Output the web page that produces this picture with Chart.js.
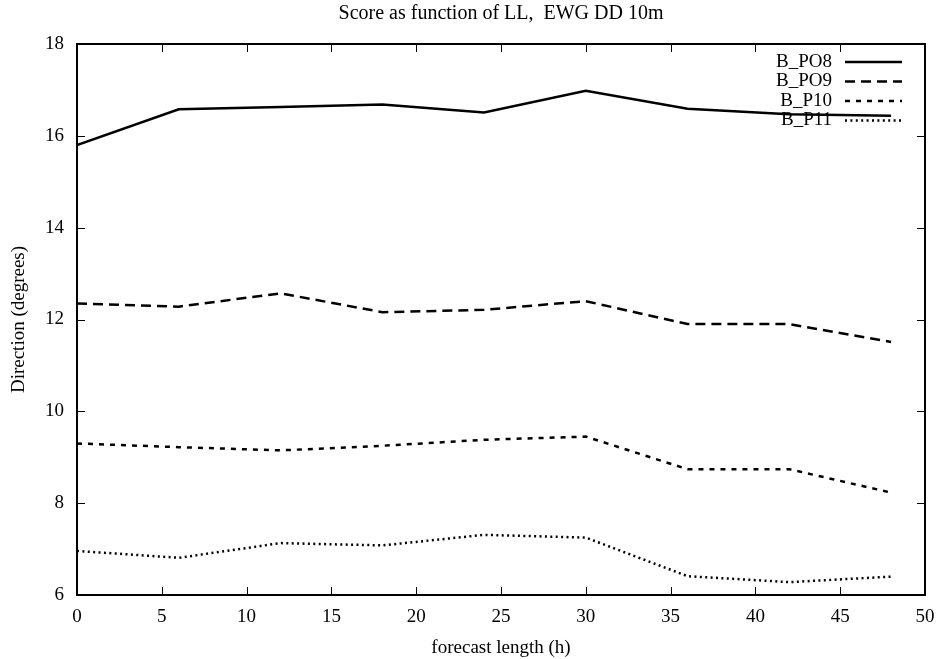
<!DOCTYPE html>
<html>
<head>
<meta charset="utf-8">
<script src="https://cdn.jsdelivr.net/npm/chart.js@4.4.0/dist/chart.umd.min.js"></script>
<style>
  html, body { margin: 0; padding: 0; background: #fff; }
  #wrap { width: 939px; height: 659px; }
</style>
</head>
<body>
<div id="wrap"><canvas id="myChart" width="939" height="659"></canvas></div>
<script>
// forecast length (h)
const hours = [0, 6, 12, 18, 24, 30, 36, 42, 48];
// direction score (degrees) per experiment
const bPO8 = [15.80, 16.58, 16.63, 16.68, 16.51, 16.98, 16.59, 16.47, 16.44];
const bPO9 = [12.35, 12.28, 12.57, 12.16, 12.21, 12.40, 11.90, 11.90, 11.51];
const bP10 = [9.30, 9.22, 9.15, 9.25, 9.38, 9.45, 8.74, 8.74, 8.23];
const bP11 = [6.96, 6.81, 7.13, 7.08, 7.31, 7.25, 6.41, 6.28, 6.40];
const seriesNames = ["B_PO8", "B_PO9", "B_P10", "B_P11"];
const xTicks = [0, 5, 10, 15, 20, 25, 30, 35, 40, 45, 50];
const yTicks = [6, 8, 10, 12, 14, 16, 18];
const titleText = "Score as function of LL,  EWG DD 10m";

const FONT = "Liberation Serif";
const FSIZE = 19;

const toPoints = (ys) => hours.map((h, i) => ({ x: h, y: ys[i] }));

const dashes = [[], [10, 6], [5, 6], [2, 3.4]];

const datasets = [bPO8, bPO9, bP10, bP11].map((ys, i) => ({
  label: seriesNames[i],
  data: toPoints(ys),
  borderColor: "#000",
  borderWidth: 2.5,
  borderDash: dashes[i],
  borderCapStyle: "butt",
  pointRadius: 0,
  tension: 0,
  fill: false,
}));

// gnuplot-like frame, inward ticks, title and legend
const gnuplotLook = {
  id: "gnuplotLook",
  beforeDatasetsDraw(chart) {
    const { ctx, chartArea } = chart;
    ctx.save();
    ctx.fillStyle = "#000";
    ctx.textBaseline = "middle";
    // title centred over the plot
    ctx.font = "20px '" + FONT + "'";
    ctx.textAlign = "center";
    ctx.fillText(titleText, (chartArea.left + chartArea.right) / 2, 14);
    // legend (top right, text right-aligned, sample line after)
    ctx.font = FSIZE + "px '" + FONT + "'";
    ctx.textAlign = "right";
    chart.data.datasets.forEach((ds, i) => {
      const y = 62 + i * 19.5;
      ctx.fillText(ds.label, 832, y);
      ctx.beginPath();
      ctx.setLineDash(ds.borderDash);
      ctx.lineWidth = ds.borderWidth;
      ctx.strokeStyle = ds.borderColor;
      ctx.moveTo(845, y);
      ctx.lineTo(902, y);
      ctx.stroke();
    });
    ctx.restore();
  },
  afterDatasetsDraw(chart) {
    const { ctx, chartArea, scales } = chart;
    const { left, right, top, bottom } = chartArea;
    const len = 8;
    ctx.save();
    ctx.setLineDash([]);
    ctx.strokeStyle = "#000";
    ctx.lineWidth = 1;
    ctx.beginPath();
    xTicks.forEach((v) => {
      const px = Math.round(scales.x.getPixelForValue(v)) + 0.5;
      ctx.moveTo(px, bottom); ctx.lineTo(px, bottom - len);
      ctx.moveTo(px, top); ctx.lineTo(px, top + len);
    });
    yTicks.forEach((v) => {
      const py = Math.round(scales.y.getPixelForValue(v)) + 0.5;
      ctx.moveTo(left, py); ctx.lineTo(left + len, py);
      ctx.moveTo(right, py); ctx.lineTo(right - len, py);
    });
    ctx.stroke();
    ctx.lineWidth = 2;
    ctx.strokeRect(left, top, right - left, bottom - top);
    ctx.restore();
  },
};

const ctx = document.getElementById("myChart").getContext("2d");
new Chart(ctx, {
  type: "line",
  data: { datasets },
  plugins: [gnuplotLook],
  options: {
    responsive: false,
    animation: false,
    layout: { padding: { top: 44, right: 14, left: 0, bottom: 0 } },
    plugins: {
      legend: { display: false },
      title: { display: false },
      tooltip: { enabled: false },
    },
    scales: {
      x: {
        type: "linear",
        min: 0,
        max: 50,
        afterBuildTicks: (scale) => { scale.ticks = xTicks.map((v) => ({ value: v })); },
        afterFit: (scale) => {
          scale.height = 64;
          scale.paddingLeft = 0;
          scale.paddingRight = 0;
        },
        grid: { display: false, drawTicks: false },
        border: { display: false },
        ticks: { color: "#000", padding: 11, maxRotation: 0, font: { family: FONT, size: FSIZE } },
        title: {
          display: true,
          text: "forecast length (h)",
          color: "#000",
          padding: { top: 0, bottom: 0 },
          font: { family: FONT, size: FSIZE },
        },
      },
      y: {
        type: "linear",
        min: 6,
        max: 18,
        afterBuildTicks: (scale) => { scale.ticks = yTicks.map((v) => ({ value: v })); },
        afterFit: (scale) => {
          scale.width = 77;
          scale.paddingTop = 0;
          scale.paddingBottom = 0;
        },
        grid: { display: false, drawTicks: false },
        border: { display: false },
        ticks: { color: "#000", padding: 13, font: { family: FONT, size: FSIZE } },
        title: {
          display: true,
          text: "Direction (degrees)",
          color: "#000",
          padding: { top: 8, bottom: 0 },
          font: { family: FONT, size: FSIZE },
        },
      },
    },
  },
});
</script>
</body>
</html>
